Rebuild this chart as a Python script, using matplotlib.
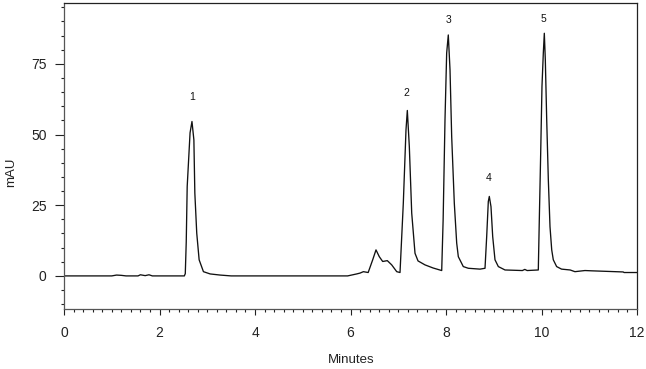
import matplotlib
matplotlib.use("Agg")
import matplotlib.pyplot as plt
from matplotlib.ticker import MultipleLocator

plt.rcParams['font.family'] = ['Liberation Sans', 'DejaVu Sans']

# Chromatogram trace (minutes, mAU)
time_min = [
    0.00, 1.00, 1.10, 1.20, 1.30, 1.55, 1.60, 1.70, 1.78, 1.85, 2.50,
    2.52, 2.54, 2.56, 2.58, 2.64, 2.68, 2.72, 2.74, 2.78, 2.83, 2.92, 3.06, 3.27, 3.50,
    5.94, 6.13, 6.20, 6.27, 6.37, 6.465, 6.534, 6.603, 6.674, 6.771, 6.863, 6.968, 7.037,
    7.106, 7.162, 7.19, 7.232, 7.282, 7.351, 7.414, 7.56, 7.73, 7.91,
    7.94, 7.979, 8.014, 8.048, 8.084, 8.119, 8.174, 8.224, 8.258, 8.362, 8.467, 8.712, 8.817,
    8.852, 8.886, 8.907, 8.942, 8.978, 9.026, 9.096, 9.236,
    9.60, 9.65, 9.70, 9.933,
    9.954, 9.983, 10.01, 10.038, 10.059, 10.08, 10.109, 10.143, 10.178, 10.214, 10.247,
    10.317, 10.42, 10.60, 10.70, 10.91, 11.05, 11.71, 11.73, 11.99,
]
absorbance_mau = [
    0.0, 0.0, 0.3, 0.2, 0.0, 0.0, 0.4, 0.1, 0.4, 0.0, 0.0,
    0.0, 0.8, 12.0, 31.6, 50.6, 54.6, 48.1, 29.3, 15.1, 5.7, 1.5, 0.7, 0.3, 0.0,
    0.0, 0.7, 1.0, 1.5, 1.2, 5.7, 9.2, 6.8, 5.1, 5.4, 3.9, 1.5, 1.2,
    25.7, 51.6, 58.5, 45.7, 22.2, 8.0, 5.3, 3.9, 2.8, 1.9,
    19.8, 55.2, 78.8, 85.2, 72.9, 49.3, 25.7, 11.6, 6.8, 3.3, 2.7, 2.4, 2.7,
    13.9, 26.3, 28.1, 24.5, 13.9, 5.7, 3.3, 2.1,
    1.9, 2.3, 1.9, 2.1,
    19.8, 43.4, 67.0, 78.8, 85.8, 76.4, 55.2, 34.0, 17.4, 9.2, 5.7,
    3.3, 2.4, 2.1, 1.5, 1.9, 1.8, 1.4, 1.2, 1.2,
]

peak_labels = ["1", "2", "3", "4", "5"]
peak_label_time = [2.674, 7.177, 8.06, 8.886, 10.05]
peak_label_mau = [63.2, 64.7, 90.6, 34.6, 90.9]

fig = plt.figure(figsize=(6.46, 3.69), dpi=100)
ax = fig.add_axes([64 / 646, 1 - 309 / 369, 573 / 646, 306 / 369])

ax.plot(time_min, absorbance_mau, color="#111111", lw=0.95)

for lab, t, v in zip(peak_labels, peak_label_time, peak_label_mau):
    ax.text(t, v, lab, ha="center", va="center", fontsize=7.5, color="#111111")

ax.set_xlim(0, 12)
ax.set_ylim(-11.7, 96.5)
ax.xaxis.set_major_locator(MultipleLocator(2))
ax.xaxis.set_minor_locator(MultipleLocator(0.2))
ax.yaxis.set_major_locator(MultipleLocator(25))
ax.yaxis.set_minor_locator(MultipleLocator(5))

ax.tick_params(axis="x", which="major", direction="out", length=4.5, width=0.8,
               pad=8, labelsize=10, colors="#222222")
ax.tick_params(axis="x", which="minor", direction="out", length=2.5, width=0.8, colors="#222222")
ax.tick_params(axis="y", which="major", direction="out", length=6.5, width=0.8,
               pad=6, labelsize=10, colors="#222222")
ax.tick_params(axis="y", which="minor", direction="out", length=2.2, width=0.8, colors="#222222")

for s in ax.spines.values():
    s.set_linewidth(0.9)
    s.set_color("#222222")
ax.spines["left"].set_color("#555555")
ax.spines["bottom"].set_color("#555555")

ax.set_xlabel("Minutes", fontsize=9.5, color="#222222")
ax.set_ylabel("mAU", fontsize=9.5, color="#222222")
ax.xaxis.set_label_coords(0.501, -0.148)
ax.yaxis.set_label_coords(-0.082, 0.448)

fig.savefig("out.png", dpi=100)
